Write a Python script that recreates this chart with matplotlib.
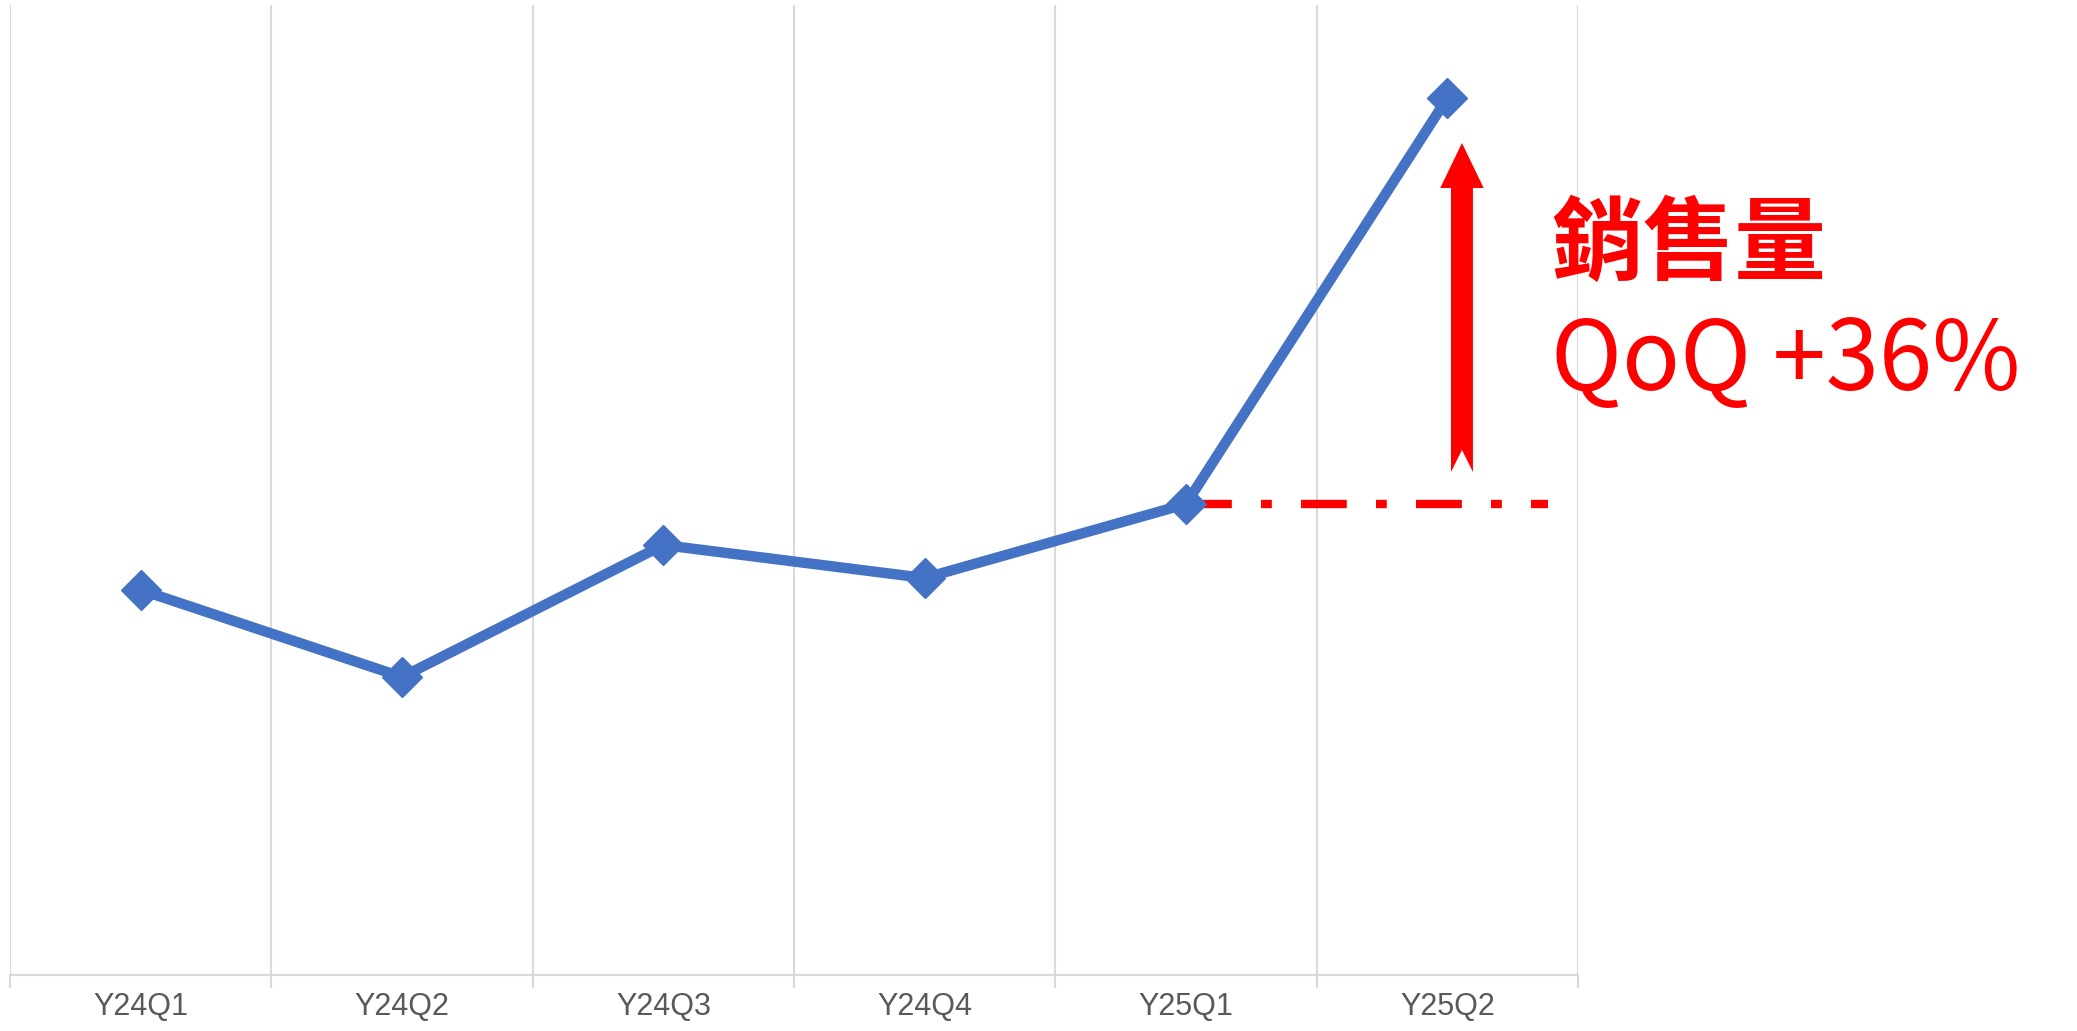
import matplotlib.pyplot as plt
from matplotlib.patches import Polygon
import numpy as np

# datos (unidades arbitrarias, el eje Y no tiene etiquetas)
trimestres = ["Y24Q1", "Y24Q2", "Y24Q3", "Y24Q4", "Y25Q1", "Y25Q2"]
ventas = [1042, 955, 1087, 1054, 1128, 1534]

azul = "#4472C4"
rojo = "#FF0000"
W, H = 2077, 1031

fig = plt.figure(figsize=(W / 100, H / 100), dpi=100)
ax = fig.add_axes([10 / W, 1 - 975 / H, 1568 / W, 970 / H])

x = np.arange(len(trimestres))
ax.plot(x, ventas, color=azul, lw=7.5, marker="D", ms=20, zorder=3)

ax.set_xlim(-0.5, len(trimestres) - 0.5)
ax.set_ylim(657, 657 + 970)

# lineas verticales entre categorias
limites = np.arange(len(trimestres) + 1) - 0.5
for b in limites:
    ax.axvline(b, color="#D9D9D9", lw=1.5, zorder=0)
ax.set_xticks(limites, minor=True)
ax.tick_params(axis="x", which="minor", length=9, width=1.5, color="#D9D9D9")
ax.set_xticks(x)
ax.set_xticklabels(trimestres, fontsize=22, color="#595959", family="Liberation Sans")
ax.tick_params(axis="x", which="major", length=0, pad=12)
ax.set_yticks([])
for s in ["top", "right", "left"]:
    ax.spines[s].set_visible(False)
ax.spines["bottom"].set_color("#D9D9D9")
ax.spines["bottom"].set_linewidth(1.5)

# linea de referencia Y25Q1
ax.plot([x[4], 5.385], [ventas[4], ventas[4]], color=rojo, lw=6,
        dashes=(5.5, 3.5, 1.3, 3.5), zorder=2, clip_on=False)

# flecha QoQ
ax_x = 5.056
base = ventas[4] + 32
punta = ventas[5] - 45
sw, hw, hl, notch = 0.042, 0.083, 45, 22
flecha = [
    (ax_x - sw, base), (ax_x, base + notch), (ax_x + sw, base),
    (ax_x + sw, punta - hl), (ax_x + hw, punta - hl), (ax_x, punta),
    (ax_x - hw, punta - hl), (ax_x - sw, punta - hl),
]
ax.add_patch(Polygon(flecha, closed=True, color=rojo, lw=0, zorder=4, clip_on=False))

fig.text(1551 / W, 1 - 273 / H, "銷售量", fontsize=66, color=rojo, fontweight="bold",
         family=["Noto Sans CJK TC", "DejaVu Sans"], va="baseline", ha="left")
fig.text(1551 / W, 1 - 390 / H, "QoQ +36%", fontsize=69, color=rojo,
         family=["Noto Sans CJK TC", "DejaVu Sans"], va="baseline", ha="left")

fig.savefig("out.png", dpi=100, facecolor="white")
